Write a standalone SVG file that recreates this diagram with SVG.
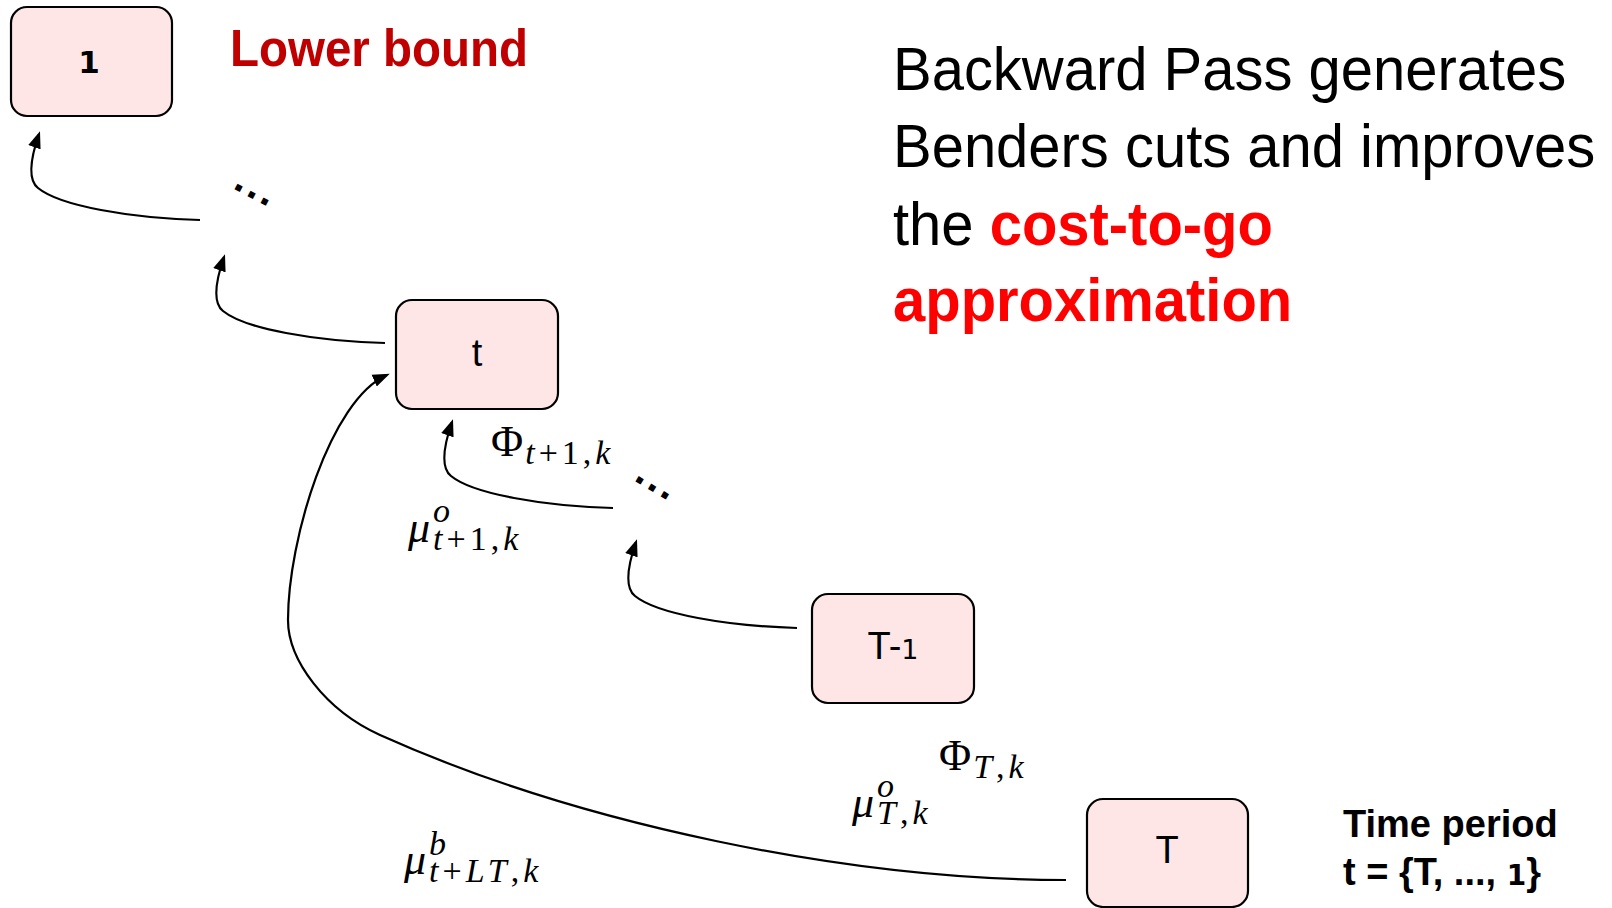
<svg xmlns="http://www.w3.org/2000/svg" width="1612" height="908" viewBox="0 0 1612 908">
  <style>
    .node rect { fill: #FFE6E6; stroke: #000; stroke-width: 2.2; }
    .lbl { font-family: "Liberation Sans", Arial, sans-serif; font-size: 38px; fill: #000; text-anchor: middle; }
    .num { font-family: "DejaVu Sans", sans-serif; font-size: 27px; }
    .first { font-family: "DejaVu Sans", sans-serif; font-size: 31px; font-weight: bold; }
    .conn path { fill: none; stroke: #000; stroke-width: 2.2; marker-end: url(#ah); }
    .dots { font-family: "Liberation Sans", Arial, sans-serif; font-size: 42px; font-weight: bold; letter-spacing: 3px; fill: #000; }
    .big { font-family: "Liberation Sans", Arial, sans-serif; font-size: 62px; fill: #000; }
    .hl { fill: #FF0000; font-weight: bold; }
    .lb { font-family: "Liberation Sans", Arial, sans-serif; font-size: 52px; font-weight: bold; fill: #C00000; }
    .tp { font-family: "Liberation Sans", Arial, sans-serif; font-size: 38px; font-weight: bold; fill: #000; }
    .tpn { font-family: "DejaVu Sans", sans-serif; font-size: 28px; font-weight: bold; }
    .m { font-family: "Liberation Serif", "Times New Roman", serif; fill: #000; }
    .mb { font-size: 44px; }
    .ms { font-size: 34px; letter-spacing: 4px; }
    .i { font-style: italic; }
    .up { font-style: normal; }
  </style>
  <defs>
    <marker id="ah" markerUnits="userSpaceOnUse" markerWidth="18" markerHeight="14" viewBox="0 0 18 14" refX="14" refY="7" orient="auto">
      <path d="M0,0.5 L17,7 L0,13.5 Z" fill="#000"/>
    </marker>
  </defs>

  <!-- stage nodes -->
  <g id="node-1" class="node">
    <rect x="11" y="7" width="161" height="109" rx="16"/>
    <text class="lbl first" x="89" y="73">1</text>
  </g>
  <g id="node-t" class="node">
    <rect x="396" y="300" width="162" height="109" rx="16"/>
    <text class="lbl" x="477" y="366">t</text>
  </g>
  <g id="node-Tm1" class="node">
    <rect x="812" y="594" width="162" height="109" rx="16"/>
    <text class="lbl" x="893" y="659">T-<tspan class="num">1</tspan></text>
  </g>
  <g id="node-T" class="node">
    <rect x="1087" y="799" width="161" height="108" rx="16"/>
    <text class="lbl" x="1167" y="863">T</text>
  </g>

  <!-- backward-pass connectors -->
  <g id="connectors" class="conn">
    <path transform="translate(200,220)" d="M0,0 C-70,-2 -140,-14 -162,-32 C-172,-40 -170,-60 -161,-86"/>
    <path transform="translate(385,343)" d="M0,0 C-70,-2 -140,-14 -162,-32 C-172,-40 -170,-60 -161,-86"/>
    <path transform="translate(613,508)" d="M0,0 C-70,-2 -140,-14 -162,-32 C-172,-40 -170,-60 -161,-86"/>
    <path transform="translate(797,628)" d="M0,0 C-70,-2 -140,-14 -162,-32 C-172,-40 -170,-60 -161,-86"/>
    <path d="M1066,880 C850,880 580,825 380,735 C325,710 288,660 288,620 C288,540 330,400 387,375"/>
  </g>

  <!-- skipped stages -->
  <text class="dots" transform="translate(232,188) rotate(28)">...</text>
  <text class="dots" transform="translate(633,480) rotate(31)">...</text>

  <!-- cut coefficients -->
  <text class="m mb" x="491" y="456">Φ<tspan class="ms i" dx="2" dy="8">t</tspan><tspan class="ms">+1,</tspan><tspan class="ms i">k</tspan></text>
  <text class="m mb i" x="408" y="542">μ<tspan class="ms" x="433" y="522">o</tspan><tspan class="ms" x="433" y="550">t<tspan class="up">+1,</tspan>k</tspan></text>
  <text class="m mb" x="939" y="770">Φ<tspan class="ms i" dx="2" dy="8">T</tspan><tspan class="ms">,</tspan><tspan class="ms i">k</tspan></text>
  <text class="m mb i" x="852" y="817">μ<tspan class="ms" x="877" y="797">o</tspan><tspan class="ms" x="877" y="824">T<tspan class="up">,</tspan>k</tspan></text>
  <text class="m mb i" x="404" y="874">μ<tspan class="ms" x="429" y="855">b</tspan><tspan class="ms" x="429" y="882">t<tspan class="up">+</tspan>LT<tspan class="up">,</tspan>k</tspan></text>

  <!-- annotations -->
  <text class="lb" x="230" y="66" textLength="298" lengthAdjust="spacingAndGlyphs">Lower bound</text>
  <g id="summary" transform="translate(893,0) scale(0.935,1)">
    <text class="big" x="0" y="90">Backward Pass generates</text>
    <text class="big" x="0" y="167">Benders cuts and improves</text>
    <text class="big" x="0" y="245">the <tspan class="hl">cost-to-go</tspan></text>
    <text class="big hl" x="0" y="321">approximation</text>
  </g>
  <text class="tp" x="1343" y="837">Time period</text>
  <text class="tp" x="1343" y="885">t = {T, ..., <tspan class="tpn">1</tspan>}</text>
</svg>
